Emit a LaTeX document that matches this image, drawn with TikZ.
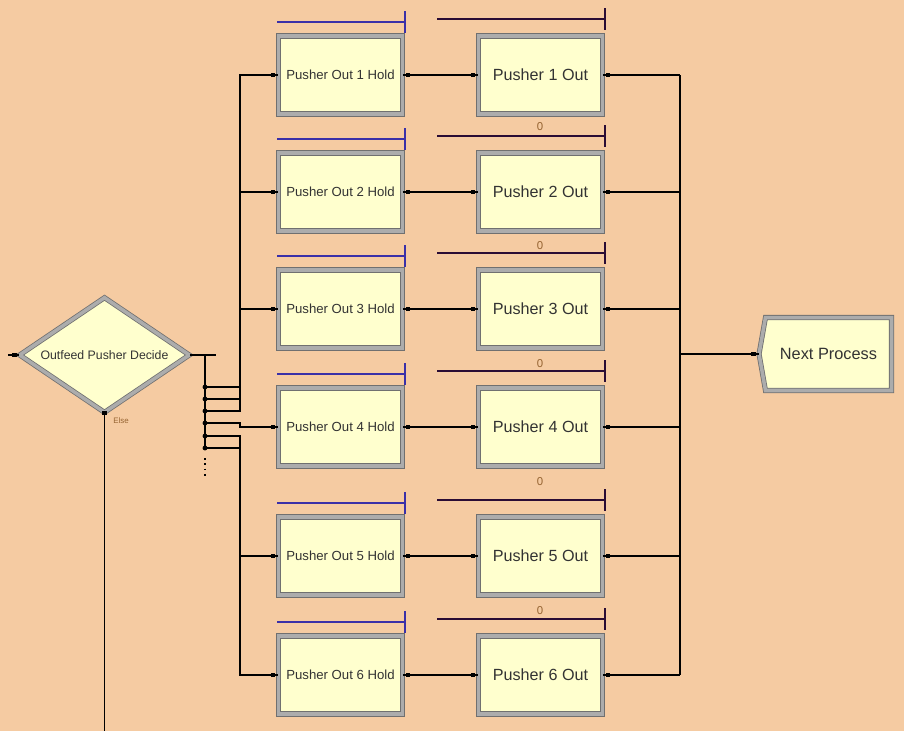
\documentclass[tikz,border=0pt]{standalone}
\usepackage{fontspec}
\setmainfont{Liberation Sans}
\usetikzlibrary{shapes.geometric,shapes.symbols}
\definecolor{peach}{RGB}{245,203,162}
\definecolor{modfill}{RGB}{255,255,206}
\definecolor{modgray}{RGB}{172,172,172}
\definecolor{modedge}{RGB}{112,112,112}
\definecolor{qblue}{RGB}{58,48,168}
\definecolor{qdark}{RGB}{42,12,52}
\definecolor{tagbrown}{RGB}{150,100,50}

\tikzset{
  module/.style={draw=modedge, line width=0.45pt, double=modgray, double distance=2pt,
    fill=modfill, inner sep=1pt, text=black!80},
  holdbox/.style={module, rectangle, minimum width=2.48cm, minimum height=1.56cm,
    font=\fontsize{7.5}{8}\selectfont},
  outbox/.style={module, rectangle, minimum width=2.48cm, minimum height=1.56cm,
    font=\fontsize{9.2}{10}\selectfont},
  decidebox/.style={module, diamond, aspect=1.46, minimum width=3.4cm, minimum height=2.3cm,
    inner sep=0pt, font=\fontsize{7}{8}\selectfont},
  disposebox/.style={module, signal, signal to=west, signal pointer angle=160,
    minimum width=2.65cm, minimum height=1.46cm, font=\fontsize{9.3}{10}\selectfont},
  link/.style={line width=0.7pt},
  holdq/.style={qblue, line width=0.7pt},
  outq/.style={qdark, line width=0.7pt},
  qcount/.style={tagbrown, inner sep=0pt, font=\fontsize{6.5}{7}\selectfont},
}
% small connection square on a module
\newcommand\portsq[1]{\fill (#1) ++(-1.3pt,-1.3pt) rectangle ++(2.6pt,2.6pt);}

\begin{document}
\begin{tikzpicture}[x=0.02cm, y=-0.02cm]
\fill[peach] (0,0) rectangle (904,731);
\useasboundingbox (0,0) rectangle (904,731);

% decide module and its exits
\node[decidebox] (d) at (104.5,355) {Outfeed Pusher Decide};
\coordinate (din) at (8,355);
\coordinate (dout) at (104.5,731);
\draw[link] (din) -- (d.west);
\portsq{[xshift=-2.5pt]d.west}
\draw[link] (d.south) -- (dout);
\portsq{d.south}
\node[qcount, anchor=west, font=\fontsize{4.5}{5}\selectfont] (elsetag) at (113,421) {Else};
\coordinate (bt) at (205,355);
\coordinate (be) at (216,355);
\draw[link] (d.east) -- (be);
\draw[link] (bt) -- (205,448);
\draw[line width=1pt, dotted] (205,458) -- (205,478);

% next process
\node[disposebox] (np) at (828.5,354) {Next Process};
\coordinate (m1) at (680,75);
\coordinate (m6) at (680,675);
\coordinate (mj) at (680,354);
\draw[link] (m1) -- (m6);
\draw[link] (mj) -- (np.west);
\portsq{[xshift=-3pt]np.west}

% one hold and one release per pusher
\foreach \i/\y/\b in {1/75/387, 2/192/399, 3/309/411, 4/427/423, 5/556/436, 6/675/448} {
  \node[holdbox] (h\i) at (340.5,\y) {Pusher Out \i{} Hold};
  \node[outbox] (o\i) at (540.5,\y) {Pusher \i{} Out};
  \coordinate (b\i) at (205,\b);
  \coordinate (t\i) at (240,\b);
  \coordinate (r\i) at (680,\y);
  \fill (b\i) circle (1.4pt);
  \draw[link] (b\i) -- (t\i) |- (h\i.west);
  \draw[link] (h\i.east) -- (o\i.west);
  \draw[link] (o\i.east) -- (r\i);
  \portsq{[xshift=-3pt]h\i.west}
  \portsq{[xshift=3pt]h\i.east}
  \portsq{[xshift=-3pt]o\i.west}
  \portsq{[xshift=3pt]o\i.east}
  % queues above the modules
  \draw[holdq] (277,{\y-53}) -- (405,{\y-53}) (405,{\y-64}) -- (405,{\y-42});
  \draw[outq] (437,{\y-56}) -- (605,{\y-56}) (605,{\y-67}) -- (605,{\y-45});
}
\foreach \i/\z in {2/127, 3/246, 4/364, 5/482, 6/611}
  \node[qcount] (c\i) at (540,\z) {0};
\end{tikzpicture}
\end{document}
